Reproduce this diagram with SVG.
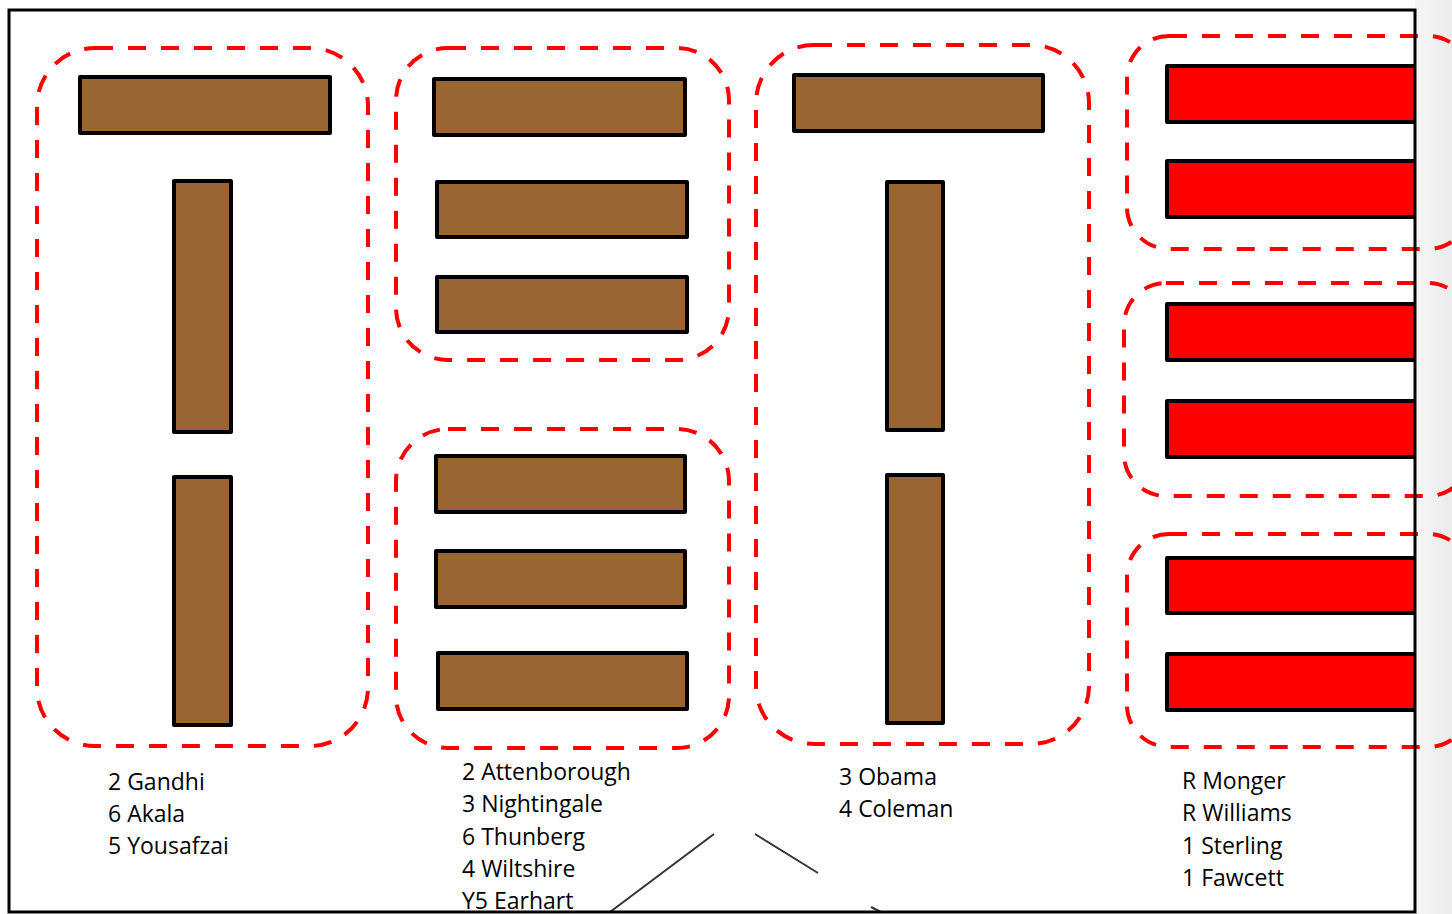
<svg xmlns="http://www.w3.org/2000/svg" width="1452" height="914" viewBox="0 0 1452 914">
<defs>
<linearGradient id="side" x1="0" y1="0" x2="1" y2="0">
<stop offset="0" stop-color="#f6f6f6"/>
<stop offset="1" stop-color="#ebebeb"/>
</linearGradient>
<clipPath id="room"><rect x="0" y="0" width="1415" height="914"/></clipPath>
</defs>
<style>
.zone{fill:none;stroke:#ff0000;stroke-width:4;stroke-dasharray:18 15}
.desk{fill:#996633;stroke:#000;stroke-width:4;stroke-linejoin:round}
.rdesk{fill:#ff0000;stroke:#000;stroke-width:4;stroke-linejoin:round}
.lbl{font-family:"Open Sans","Noto Sans",sans-serif;font-size:23px;fill:#000}
.mark{stroke:#333;stroke-width:2;fill:none}
</style>
<rect x="0" y="0" width="1452" height="914" fill="#ffffff"/>
<rect x="1415" y="0" width="37" height="914" fill="url(#side)"/>

<g id="group1">
<rect class="zone" x="37" y="48" width="331" height="698" rx="58"/>
<rect class="desk" x="80" y="77" width="250" height="56"/>
<rect class="desk" x="174" y="181" width="57" height="251"/>
<rect class="desk" x="174" y="477" width="57" height="248"/>
<text class="lbl" x="108" y="790">2 Gandhi</text>
<text class="lbl" x="108" y="822">6 Akala</text>
<text class="lbl" x="108" y="854">5 Yousafzai</text>
</g>

<g id="group2a">
<rect class="zone" x="396" y="48" width="333" height="312" rx="52"/>
<rect class="desk" x="434" y="79" width="251" height="56"/>
<rect class="desk" x="437" y="182" width="250" height="55"/>
<rect class="desk" x="437" y="277" width="250" height="55"/>
</g>

<g id="group2b">
<rect class="zone" x="396" y="429" width="333" height="319" rx="52"/>
<rect class="desk" x="436" y="456" width="249" height="56"/>
<rect class="desk" x="436" y="551" width="249" height="56"/>
<rect class="desk" x="438" y="653" width="249" height="56"/>
<text class="lbl" x="462" y="780">2 Attenborough</text>
<text class="lbl" x="462" y="812">3 Nightingale</text>
<text class="lbl" x="462" y="845">6 Thunberg</text>
<text class="lbl" x="462" y="877">4 Wiltshire</text>
<text class="lbl" x="462" y="909">Y5 Earhart</text>
</g>

<g id="group3">
<rect class="zone" x="756" y="45" width="333" height="699" rx="58"/>
<rect class="desk" x="794" y="75" width="249" height="56"/>
<rect class="desk" x="887" y="182" width="56" height="248"/>
<rect class="desk" x="887" y="475" width="56" height="248"/>
<text class="lbl" x="839" y="785">3 Obama</text>
<text class="lbl" x="839" y="817">4 Coleman</text>
</g>

<g id="group4a">
<rect class="zone" x="1127" y="36" width="343" height="213" rx="42"/>
<g clip-path="url(#room)">
<rect class="rdesk" x="1167" y="66" width="260" height="56"/>
<rect class="rdesk" x="1167" y="161" width="260" height="56"/>
</g>
</g>

<g id="group4b">
<rect class="zone" x="1124" y="283" width="346" height="213" rx="42"/>
<g clip-path="url(#room)">
<rect class="rdesk" x="1167" y="304" width="260" height="56"/>
<rect class="rdesk" x="1167" y="401" width="260" height="56"/>
</g>
</g>

<g id="group4c">
<rect class="zone" x="1127" y="534" width="343" height="213" rx="42"/>
<g clip-path="url(#room)">
<rect class="rdesk" x="1167" y="558" width="260" height="55"/>
<rect class="rdesk" x="1167" y="654" width="260" height="56"/>
</g>
<text class="lbl" x="1182" y="789">R Monger</text>
<text class="lbl" x="1182" y="821">R Williams</text>
<text class="lbl" x="1182" y="854">1 Sterling</text>
<text class="lbl" x="1182" y="886">1 Fawcett</text>
</g>

<g id="connectors">
<line class="mark" x1="610" y1="912" x2="714" y2="834"/>
<line class="mark" x1="755" y1="834" x2="818" y2="873"/>
<line class="mark" x1="871" y1="907" x2="881" y2="912"/>
</g>

<rect id="room-border" x="9" y="10" width="1406" height="902" fill="none" stroke="#000" stroke-width="3"/>
</svg>
